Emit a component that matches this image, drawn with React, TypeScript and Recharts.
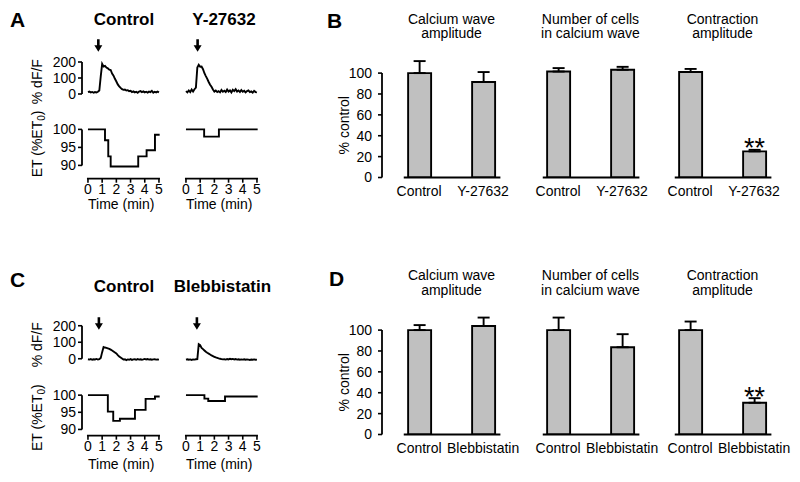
import React from 'react';
import {
  LineChart,
  Line,
  BarChart,
  Bar,
  XAxis,
  YAxis,
  ErrorBar,
  LabelList,
  ReferenceLine,
  ReferenceDot,
} from 'recharts';

const FONT = '"Liberation Sans", Arial, Helvetica, sans-serif';

// sampling times of the fluorescence traces (min)
const traceTimes = [
  0, 0.1, 0.2, 0.3, 0.4, 0.5, 0.6, 0.7, 0.8, 0.9,
  1, 1.1, 1.2, 1.3, 1.4, 1.5, 1.6, 1.7, 1.8, 1.9,
  2, 2.1, 2.2, 2.3, 2.4, 2.5, 2.6, 2.7, 2.8, 2.9,
  3, 3.1, 3.2, 3.3, 3.4, 3.5, 3.6, 3.7, 3.8, 3.9,
  4, 4.1, 4.2, 4.3, 4.4, 4.5, 4.6, 4.7, 4.8, 4.9, 5,
];

// % dF/F traces
const dffControlA = [
  12, 15, 10, 13, 8, 12, 10, 14, 22, 110,
  188, 172, 176, 165, 160, 152, 150, 128, 115, 95,
  78, 60, 48, 38, 30, 26, 28, 22, 24, 18,
  20, 12, 16, 10, 14, 8, 15, 18, 12, 16,
  10, 14, 9, 15, 12, 20, 8, 14, 10, 15, 10,
];
const dffY27632 = [
  18, 10, 22, 12, 28, 15, 30, 40, 165, 182,
  170, 172, 155, 130, 112, 95, 75, 58, 45, 28,
  15, 22, 12, 18, 10, 25, 14, 20, 12, 28,
  15, 22, 10, 26, 18, 30, 15, 22, 12, 25,
  14, 20, 10, 18, 22, 12, 16, 8, 20, 12, 10,
];
const dffControlC = [
  -3, -5, -2, -6, -3, -4, -1, -5, -2, 5,
  40, 71, 68, 66, 63, 60, 55, 50, 44, 38,
  32, 22, 14, 8, 2, -5, -3, -8, -4, -6,
  -2, -7, -4, -3, -6, -2, -5, -3, -6, -4,
  -1, -4, -2, -5, -3, -6, -4, -3, -5, -4, -5,
];
const dffBlebbistatin = [
  -5, -3, -6, -4, -7, -4, -5, -3, -2, 88,
  82, 66, 58, 50, 42, 36, 31, 26, 20, 16,
  12, 8, 5, 2, 0, -2, -4, -3, -5, -2,
  -4, 0, -3, -1, -4, -2, -5, -3, -6, -4,
  -5, -3, -6, -4, -5, -7, -5, -6, -4, -6, -5,
];

// ET (%ET0) step traces: time of each change and the level after it
const etTimesControlA = [0, 1.2, 1.43, 1.6, 3.54, 4.13, 4.72, 5.05];
const etControlA = [100, 97, 92.5, 89.7, 92.5, 94.2, 98.5, 98.5];
const etTimesY27632 = [0, 1.28, 2.32, 5.05];
const etY27632 = [100, 98, 100, 100];
const etTimesControlC = [0, 1.4, 1.78, 2.25, 3.31, 4.06, 4.72, 5.05];
const etControlC = [100, 95.2, 92.5, 93.1, 95.7, 98.9, 99.6, 99.6];
const etTimesBlebbistatin = [0, 1.3, 1.57, 2.75, 5.05];
const etBlebbistatin = [100, 99, 98.3, 99.6, 99.6];

// stimulus arrows [time, % dF/F at the tip]
const arrowControlA = [0.73, 264];
const arrowY27632 = [0.82, 264];
const arrowControlC = [0.77, 176];
const arrowBlebbistatin = [0.77, 176];

const timeTicks = [0, 1, 2, 3, 4, 5];
const dffTicks = [0, 100, 200];
const etTicks = [90, 95, 100];
const percentTicks = [0, 20, 40, 60, 80, 100];

// bar summaries (% control, mean and SEM)
const groupsB = ['Control', 'Y-27632'];
const waveAmpB = [100, 91.5];
const waveAmpErrB = [11.5, 9.5];
const cellsB = [101.5, 103.2];
const cellsErrB = [3.3, 2.8];
const contractionB = [101, 25];
const contractionErrB = [3, 1.5];

const groupsD = ['Control', 'Blebbistatin'];
const waveAmpD = [100, 104];
const waveAmpErrD = [4.8, 8];
const cellsD = [100, 83.6];
const cellsErrD = [12, 12.5];
const contractionD = [100, 30.4];
const contractionErrD = [8.2, 4.4];

const contractionSig = ['', '**'];
const noSig = ['', ''];

// trace geometry
const T_MIN = -0.42;
const T_MAX = 5.1;
const T_PX = 14.2;
const TRACE_YW = 52;
const DFF_MIN = -20;
const DFF_MAX = 350;
const ET_MAX = 101.5;
const PAD = { top: 20, right: 14, bottom: 20, left: 0 };
const TRACE_W = 1.9;
const AXIS_W = 1.8;

const tickStyle = { fill: '#000', fontSize: 14 };
const tickLineStyle = { stroke: '#000', strokeWidth: 1.6 };

const ArrowDown = (props: any) => {
  const { cx, cy } = props;
  return (
    <path
      d={`M${cx - 1.3},${cy - 12.5} L${cx + 1.3},${cy - 12.5} L${cx + 1.3},${cy - 6.5} L${cx + 4},${cy - 6.5} L${cx},${cy} L${cx - 4},${cy - 6.5} L${cx - 1.3},${cy - 6.5} Z`}
      fill="#000"
    />
  );
};

function verticalTitle(content: React.ReactNode, x: number, y: number) {
  return () => (
    <text
      x={x}
      y={y}
      transform={`rotate(-90 ${x} ${y})`}
      textAnchor="middle"
      fontSize={14}
      fill="#000"
    >
      {content}
    </text>
  );
}

function DffTrace({ x0, y0, s, values, arrow, showAxis, labelY }: any) {
  const yw = showAxis ? TRACE_YW : 0;
  const left = x0 + T_MIN * T_PX - yw - PAD.left;
  const top = y0 - DFF_MAX * s - PAD.top;
  const w = PAD.left + yw + (T_MAX - T_MIN) * T_PX + PAD.right;
  const h = PAD.top + (DFF_MAX - DFF_MIN) * s + PAD.bottom;
  const data = traceTimes.map((t, i) => ({ t, v: values[i] }));

  return (
    <div style={{ position: 'absolute', left, top, width: w, height: h }}>
      <LineChart width={w} height={h} data={data} margin={PAD}>
        <XAxis dataKey="t" type="number" domain={[T_MIN, T_MAX]} allowDataOverflow hide />
        <YAxis
          type="number"
          domain={[DFF_MIN, DFF_MAX]}
          allowDataOverflow
          hide={!showAxis}
          width={yw}
          ticks={dffTicks}
          interval={0}
          axisLine={false}
          tickSize={4}
          tickMargin={2}
          tickLine={tickLineStyle}
          tick={tickStyle}
          label={verticalTitle('% dF/F', 42.5 - left, labelY - top)}
        />
        {showAxis && (
          <ReferenceLine
            segment={[{ x: T_MIN, y: 0 }, { x: T_MIN, y: 200 }]}
            stroke="#000"
            strokeWidth={AXIS_W}
            ifOverflow="visible"
          />
        )}
        <Line
          type="linear"
          dataKey="v"
          stroke="#000"
          strokeWidth={TRACE_W}
          dot={false}
          isAnimationActive={false}
        />
        <ReferenceDot x={arrow[0]} y={arrow[1]} r={0} shape={ArrowDown} ifOverflow="visible" />
      </LineChart>
    </div>
  );
}

function EtTrace({ x0, y100, s, axisY, xAxisH, times, values, showAxis, labelY }: any) {
  const yw = showAxis ? TRACE_YW : 0;
  const etMin = 100 - (axisY - y100) / s;
  const left = x0 + T_MIN * T_PX - yw - PAD.left;
  const top = y100 - (ET_MAX - 100) * s - PAD.top;
  const w = PAD.left + yw + (T_MAX - T_MIN) * T_PX + PAD.right;
  const h = PAD.top + (axisY - (y100 - (ET_MAX - 100) * s)) + xAxisH + PAD.bottom;
  const data = times.map((t: number, i: number) => ({ t, v: values[i] }));
  const etTitle = (
    <>
      ET (%ET
      <tspan dy={3} fontSize={10}>0</tspan>
      <tspan dy={-3}>)</tspan>
    </>
  );

  return (
    <div style={{ position: 'absolute', left, top, width: w, height: h }}>
      <LineChart width={w} height={h} data={data} margin={PAD}>
        <XAxis
          dataKey="t"
          type="number"
          domain={[T_MIN, T_MAX]}
          allowDataOverflow
          ticks={timeTicks}
          interval={0}
          height={xAxisH}
          axisLine={false}
          stroke="#000"
          tickSize={4}
          tickMargin={1}
          tickLine={tickLineStyle}
          tick={tickStyle}
          label={{ value: 'Time (min)', position: 'insideBottom', offset: 0, fill: '#000', fontSize: 14 }}
        />
        <YAxis
          type="number"
          domain={[etMin, ET_MAX]}
          allowDataOverflow
          hide={!showAxis}
          width={yw}
          ticks={etTicks}
          interval={0}
          axisLine={false}
          tickSize={4}
          tickMargin={2}
          tickLine={tickLineStyle}
          tick={tickStyle}
          label={verticalTitle(etTitle, 42.5 - left, labelY - top)}
        />
        <ReferenceLine
          segment={[{ x: -0.07, y: etMin }, { x: 5.07, y: etMin }]}
          stroke="#000"
          strokeWidth={AXIS_W}
          ifOverflow="visible"
        />
        {showAxis && (
          <ReferenceLine
            segment={[{ x: T_MIN, y: 90 }, { x: T_MIN, y: 100 }]}
            stroke="#000"
            strokeWidth={AXIS_W}
            ifOverflow="visible"
          />
        )}
        <Line
          type="stepAfter"
          dataKey="v"
          stroke="#000"
          strokeWidth={TRACE_W}
          dot={false}
          isAnimationActive={false}
        />
      </LineChart>
    </div>
  );
}

// bar geometry
const BAR_MIN = -0.58;
const BAR_MAX = 1.32;
const BAR_PX = 64;
const PCT_MAX = 125;
const PCT_PX = 1.044;
const BAR_YW = 62;
const BAR_XH = 30;
const BAR_PAD = { top: 10, right: 30, bottom: 6, left: 0 };

function BarPanel({ c0, y0, groups, means, errs, sig, showAxis }: any) {
  const yw = showAxis ? BAR_YW : 0;
  const left = c0 + BAR_MIN * BAR_PX - yw - BAR_PAD.left;
  const top = y0 - PCT_MAX * PCT_PX - BAR_PAD.top;
  const w = BAR_PAD.left + yw + (BAR_MAX - BAR_MIN) * BAR_PX + BAR_PAD.right;
  const h = BAR_PAD.top + PCT_MAX * PCT_PX + BAR_XH + BAR_PAD.bottom;
  const data = groups.map((g: string, i: number) => ({
    pos: i,
    mean: means[i],
    err: [0, errs[i]],
    sig: sig[i],
  }));

  const renderStars = (props: any) => {
    const { x, y, width, value, index } = props;
    if (!value) return null;
    const capTop = Number(y) - errs[index] * PCT_PX;
    return (
      <text x={Number(x) + Number(width) / 2} y={capTop + 7.6} textAnchor="middle" fontSize={27} fill="#000">
        {value}
      </text>
    );
  };

  return (
    <div style={{ position: 'absolute', left, top, width: w, height: h }}>
      <BarChart width={w} height={h} data={data} margin={BAR_PAD} barSize={23}>
        <XAxis
          dataKey="pos"
          type="number"
          domain={[BAR_MIN, BAR_MAX]}
          allowDataOverflow
          ticks={[0, 1]}
          interval={0}
          tickFormatter={(v) => groups[v]}
          axisLine={false}
          tickLine={false}
          tickSize={0}
          tickMargin={9}
          tick={tickStyle}
          height={BAR_XH}
        />
        <YAxis
          type="number"
          domain={[0, PCT_MAX]}
          allowDataOverflow
          hide={!showAxis}
          width={yw}
          ticks={percentTicks}
          interval={0}
          axisLine={false}
          tickSize={4}
          tickMargin={6}
          tickLine={tickLineStyle}
          tick={tickStyle}
          label={verticalTitle('% control', 349.5 - left, y0 - 50 * PCT_PX - top)}
        />
        <ReferenceLine
          segment={[{ x: -0.24, y: 0 }, { x: 1.27, y: 0 }]}
          stroke="#000"
          strokeWidth={2}
          ifOverflow="visible"
        />
        {showAxis && (
          <ReferenceLine
            segment={[{ x: BAR_MIN, y: 0 }, { x: BAR_MIN, y: 100 }]}
            stroke="#000"
            strokeWidth={AXIS_W}
            ifOverflow="visible"
          />
        )}
        <Bar dataKey="mean" fill="#c0c0c0" stroke="#000" strokeWidth={1.9} isAnimationActive={false}>
          <ErrorBar dataKey="err" direction="y" width={6} stroke="#000" strokeWidth={1.9} />
          <LabelList dataKey="sig" content={renderStars} />
        </Bar>
      </BarChart>
    </div>
  );
}

const letterStyle = { fontSize: 21, fontWeight: 700 };
const columnTitleStyle = { fontSize: 17, fontWeight: 700 };

function Titles() {
  const sub = (x: number, y1: number, y2: number, a: string, b: string) => (
    <text x={x} textAnchor="middle" fontSize={14} fill="#000">
      <tspan x={x} y={y1}>{a}</tspan>
      <tspan x={x} y={y2}>{b}</tspan>
    </text>
  );
  return (
    <svg
      width={800}
      height={482}
      style={{ position: 'absolute', left: 0, top: 0, pointerEvents: 'none' }}
    >
      <text x={10} y={26.5} {...letterStyle}>A</text>
      <text x={327} y={27.5} {...letterStyle}>B</text>
      <text x={10} y={286.5} {...letterStyle}>C</text>
      <text x={329} y={286} {...letterStyle}>D</text>

      <text x={124} y={25} textAnchor="middle" {...columnTitleStyle}>Control</text>
      <text x={224} y={25} textAnchor="middle" {...columnTitleStyle}>Y-27632</text>
      <text x={124} y={291.5} textAnchor="middle" {...columnTitleStyle}>Control</text>
      <text x={222.5} y={291.5} textAnchor="middle" {...columnTitleStyle}>Blebbistatin</text>

      {sub(451.5, 23.5, 38, 'Calcium wave', 'amplitude')}
      {sub(590.5, 23.5, 38, 'Number of cells', 'in calcium wave')}
      {sub(722.5, 23.5, 38, 'Contraction', 'amplitude')}
      {sub(451.5, 280, 295, 'Calcium wave', 'amplitude')}
      {sub(590.5, 280, 295, 'Number of cells', 'in calcium wave')}
      {sub(722.5, 280, 295, 'Contraction', 'amplitude')}
    </svg>
  );
}

export default function App() {
  const rowA = { dffY0: 94, dffS: 0.16, etY100: 129, etS: 3.6, axisY: 178.3, xAxisH: 30 };
  const rowC = { dffY0: 359, dffS: 0.165, etY100: 395, etS: 3.43, axisY: 435.5, xAxisH: 33 };

  return (
    <div
      style={{
        position: 'absolute',
        left: 0,
        top: 0,
        width: 800,
        height: 482,
        background: '#fff',
        fontFamily: FONT,
        overflow: 'hidden',
      }}
    >
      <Titles />

      {/* A */}
      <DffTrace x0={88} y0={rowA.dffY0} s={rowA.dffS} values={dffControlA} arrow={arrowControlA} showAxis labelY={81.7} />
      <DffTrace x0={186} y0={rowA.dffY0} s={rowA.dffS} values={dffY27632} arrow={arrowY27632} />
      <EtTrace x0={88} y100={rowA.etY100} s={rowA.etS} axisY={rowA.axisY} xAxisH={rowA.xAxisH}
        times={etTimesControlA} values={etControlA} showAxis labelY={143.5} />
      <EtTrace x0={186} y100={rowA.etY100} s={rowA.etS} axisY={rowA.axisY} xAxisH={rowA.xAxisH}
        times={etTimesY27632} values={etY27632} />

      {/* C */}
      <DffTrace x0={88} y0={rowC.dffY0} s={rowC.dffS} values={dffControlC} arrow={arrowControlC} showAxis labelY={345} />
      <DffTrace x0={186} y0={rowC.dffY0} s={rowC.dffS} values={dffBlebbistatin} arrow={arrowBlebbistatin} />
      <EtTrace x0={88} y100={rowC.etY100} s={rowC.etS} axisY={rowC.axisY} xAxisH={rowC.xAxisH}
        times={etTimesControlC} values={etControlC} showAxis labelY={417.5} />
      <EtTrace x0={186} y100={rowC.etY100} s={rowC.etS} axisY={rowC.axisY} xAxisH={rowC.xAxisH}
        times={etTimesBlebbistatin} values={etBlebbistatin} />

      {/* B */}
      <BarPanel c0={419.5} y0={177.7} groups={groupsB} means={waveAmpB} errs={waveAmpErrB} sig={noSig} showAxis />
      <BarPanel c0={558.5} y0={177.7} groups={groupsB} means={cellsB} errs={cellsErrB} sig={noSig} />
      <BarPanel c0={690.5} y0={177.7} groups={groupsB} means={contractionB} errs={contractionErrB} sig={contractionSig} />

      {/* D */}
      <BarPanel c0={419.5} y0={434} groups={groupsD} means={waveAmpD} errs={waveAmpErrD} sig={noSig} showAxis />
      <BarPanel c0={558.5} y0={434} groups={groupsD} means={cellsD} errs={cellsErrD} sig={noSig} />
      <BarPanel c0={690.5} y0={434} groups={groupsD} means={contractionD} errs={contractionErrD} sig={contractionSig} />
    </div>
  );
}
